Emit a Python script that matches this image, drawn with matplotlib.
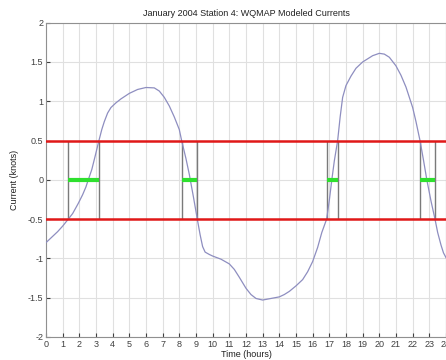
import numpy as np
import matplotlib
matplotlib.use("Agg")
import matplotlib.pyplot as plt

plt.rcParams['font.family'] = ['Liberation Sans', 'DejaVu Sans']

# modeled current (hours, knots)
hours = [0, 0.3, 0.7, 1.0, 1.34, 1.6, 1.94, 2.2, 2.4, 2.54, 2.75, 2.95, 3.18,
         3.35, 3.5, 3.7, 3.9, 4.2, 4.5, 5.0, 5.5, 6.0, 6.5, 6.8, 7.1, 7.4, 7.7,
         8.0, 8.14, 8.4, 8.6, 8.85, 9.08, 9.25, 9.4, 9.55, 9.8, 10.0, 10.5,
         11.0, 11.3, 11.6, 12.0, 12.3, 12.6, 13.0, 13.5, 14.0, 14.3, 14.6, 15.0,
         15.4, 15.7, 16.0, 16.3, 16.55, 16.84, 17.0, 17.15, 17.3, 17.5, 17.65,
         17.8, 18.0, 18.3, 18.6, 19.0, 19.3, 19.6, 20.0, 20.3, 20.6, 21.0, 21.3,
         21.6, 22.0, 22.2, 22.44, 22.65, 22.85, 23.1, 23.34, 23.5, 23.7, 23.85,
         24.0]
current = [-0.80, -0.74, -0.66, -0.59, -0.50, -0.43, -0.30, -0.19, -0.09, 0.0,
           0.13, 0.30, 0.50, 0.64, 0.74, 0.85, 0.92, 0.98, 1.03, 1.10, 1.15,
           1.175, 1.17, 1.13, 1.05, 0.94, 0.80, 0.64, 0.50, 0.27, 0.07, -0.22,
           -0.50, -0.70, -0.85, -0.92, -0.95, -0.97, -1.01, -1.07, -1.14, -1.24,
           -1.38, -1.46, -1.51, -1.53, -1.51, -1.49, -1.46, -1.42, -1.35, -1.27,
           -1.17, -1.04, -0.86, -0.67, -0.50, -0.26, 0.0, 0.24, 0.50, 0.80, 1.05,
           1.20, 1.32, 1.42, 1.50, 1.54, 1.58, 1.61, 1.60, 1.56, 1.45, 1.33,
           1.18, 0.92, 0.74, 0.50, 0.25, 0.0, -0.27, -0.50, -0.67, -0.83, -0.93,
           -0.99]

# slack windows: start / end of |current| < 0.5
slack_start = [1.34, 8.14, 16.84, 22.44]
slack_end = [3.18, 9.08, 17.5, 23.34]
limit = 0.5

fig = plt.figure(figsize=(4.46, 3.6), dpi=100)
ax = fig.add_axes([0.103, 0.064, 0.897, 0.873])

ax.vlines(slack_start + slack_end, -limit, limit, colors='#7a7a7a', lw=1, zorder=2)
ax.plot(hours, current, color='#8e8ec0', lw=0.9, zorder=3)
ax.axhline(limit, color='#e01818', lw=1.8, zorder=4)
ax.axhline(-limit, color='#e01818', lw=1.8, zorder=4)
ax.hlines([0] * len(slack_start), slack_start, slack_end, colors='#2ee02e', lw=3, zorder=5)

ax.set_xlim(0, 24)
ax.set_ylim(-2, 2)
ax.set_xticks(np.arange(0, 25, 1))
ax.set_yticks([-2, -1.5, -1, -0.5, 0, 0.5, 1, 1.5, 2])
ax.set_yticklabels(['-2', '-1.5', '-1', '-0.5', '0', '0.5', '1', '1.5', '2'])
ax.grid(True, color='#e0e0e0', lw=0.8)
ax.set_axisbelow(True)
ax.tick_params(direction='in', labelsize=6.5, length=3, colors='#404040', pad=2)
for s in ax.spines.values():
    s.set_color('#909090')

ax.set_title('January 2004 Station 4: WQMAP Modeled Currents', fontsize=6.5, pad=5, color='#202020')
ax.set_xlabel('Time (hours)', fontsize=6.5, labelpad=1, color='#202020')
ax.set_ylabel('Current (knots)', fontsize=6.5, labelpad=6, color='#202020')

fig.savefig('out.png', dpi=100)
